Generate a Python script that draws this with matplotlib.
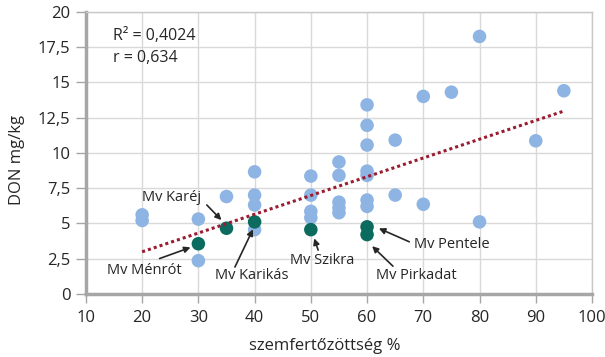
import numpy as np
import matplotlib.pyplot as plt

plt.rcParams['font.family'] = ['Open Sans', 'DejaVu Sans']

# light blue points: infection % vs DON mg/kg
x_all = [20, 20, 30, 30, 35, 40, 40, 40, 40, 50, 50, 50, 50, 55, 55, 55, 55, 55,
         60, 60, 60, 60, 60, 60, 60, 65, 65, 70, 70, 75, 80, 80, 90, 95]
y_all = [5.6, 5.2, 5.3, 2.35, 6.9, 8.65, 7.0, 6.3, 4.55, 8.35, 7.0, 5.85, 5.4,
         9.35, 8.4, 6.5, 6.1, 5.75, 13.4, 11.95, 10.55, 8.7, 8.4, 6.65, 6.2,
         10.9, 7.0, 14.0, 6.35, 14.3, 18.25, 5.1, 10.85, 14.4]

# highlighted varieties
names = ['Mv Ménrót', 'Mv Karéj', 'Mv Karikás', 'Mv Szikra', 'Mv Pentele', 'Mv Pirkadat']
x_hl = [30, 35, 40, 50, 60, 60]
y_hl = [3.55, 4.65, 5.1, 4.55, 4.75, 4.2]

# trendline as drawn in the source (Excel linear trend)
trend_x = [20, 95]
trend_y = [2.98, 12.96]

x_ticks = [10, 20, 30, 40, 50, 60, 70, 80, 90, 100]
y_ticks = [0, 2.5, 5, 7.5, 10, 12.5, 15, 17.5, 20]

light = '#8db4e2'
dark = '#0b6b5e'
grey = '#a6a6a6'

fig = plt.figure(figsize=(6.05, 3.57), dpi=100)
ax = fig.add_axes([0.142, 0.177, 0.8365, 0.79])

ax.scatter(x_all, y_all, s=95, color=light, edgecolors='none', zorder=3)
ax.scatter(x_hl, y_hl, s=95, color=dark, edgecolors='none', zorder=4)
ax.plot(trend_x, trend_y, linestyle=(0, (1, 1)), color='#9b1b30', lw=2.2, zorder=5)

ax.set_xlim(10, 100)
ax.set_ylim(0, 20)
ax.set_xticks(x_ticks)
ax.set_yticks(y_ticks)
ax.set_yticklabels([('%g' % v).replace('.', ',') for v in y_ticks])
ax.grid(color='#d9d9d9', lw=1, zorder=0)
ax.set_axisbelow(True)

for side in ['top', 'right']:
    ax.spines[side].set_color('#c8c8c8')
    ax.spines[side].set_linewidth(1)
for side in ['left', 'bottom']:
    ax.spines[side].set_color(grey)
    ax.spines[side].set_linewidth(2.5)
ax.tick_params(axis='both', colors=grey, labelcolor='#262626', labelsize=12, width=1)
ax.tick_params(axis='x', length=6.5, pad=5)
ax.tick_params(axis='y', length=7, pad=4)

ax.set_xlabel('szemfertőzöttség %', fontsize=12, color='#262626', labelpad=4)
ax.xaxis.set_label_coords(0.472, -0.155)
ax.set_ylabel('DON mg/kg', fontsize=12, color='#262626')
ax.yaxis.set_label_coords(-0.12, 0.475)

ax.text(14.8, 18.25, 'R² = 0,4024', fontsize=11.5, va='center', color='#262626')
ax.text(14.8, 16.7, 'r = 0,634', fontsize=11.5, va='center', color='#262626')

# label text position and arrow start/end
lab_pos = [(13.7, 1.68), (19.9, 6.8), (32.9, 1.33), (46.3, 2.39), (68.4, 3.52), (61.5, 1.33)]
arr_start = [(23.1, 2.5), (31.5, 6.3), (36.5, 1.9), (51.3, 3.1), (67.5, 3.69), (64.6, 1.96)]
arr_end = [(28.6, 3.29), (34.1, 5.23), (39.7, 4.57), (50.6, 3.93), (62.1, 4.64), (60.9, 3.38)]

for name, lp, a0, a1 in zip(names, lab_pos, arr_start, arr_end):
    ax.text(lp[0], lp[1], name, fontsize=10.5, va='center', ha='left', color='#262626', zorder=6)
    ax.annotate('', xy=a1, xytext=a0,
                arrowprops=dict(arrowstyle='-|>', color='#262626', lw=1.2,
                                mutation_scale=9, shrinkA=0, shrinkB=0), zorder=6)

fig.savefig('out.png', dpi=100)
